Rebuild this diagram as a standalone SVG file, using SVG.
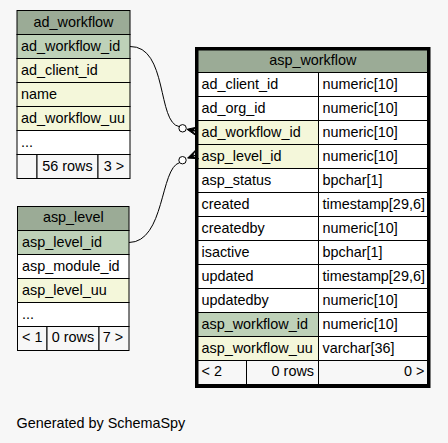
<svg xmlns="http://www.w3.org/2000/svg" width="448" height="443" viewBox="0 0 448 443">
<style>
text{font-family:"Liberation Sans",Arial,sans-serif;font-size:14.4px;fill:#000}
.c{stroke:#000;stroke-width:1}
.h{fill:#9bab96}
.pk{fill:#bed1b8}
.ix{fill:#f4f7da}
.w{fill:#ffffff}
.f{fill:#f7f7f7}
.m{text-anchor:middle}
.e{text-anchor:end}
.edge{fill:none;stroke:#000;stroke-width:1}
.dot{fill:#ffffff;stroke:#000;stroke-width:1}
.crow{fill:#000;stroke:#000;stroke-width:1;stroke-linejoin:miter}
</style>
<rect width="448" height="443" fill="#f7f7f7"/>

<g id="ad_workflow">
<rect class="c h" x="17" y="10.5" width="113" height="24"/>
<rect class="c pk" x="17" y="34.5" width="113" height="24"/>
<rect class="c ix" x="17" y="58.5" width="113" height="24"/>
<rect class="c ix" x="17" y="82.5" width="113" height="24"/>
<rect class="c ix" x="17" y="106.5" width="113" height="24"/>
<rect class="c w" x="17" y="130.5" width="113" height="24"/>
<rect class="c f" x="17" y="154.5" width="20" height="24"/>
<rect class="c f" x="37" y="154.5" width="61" height="24"/>
<rect class="c f" x="98" y="154.5" width="32" height="24"/>
<text class="m" x="73.5" y="26.5">ad_workflow</text>
<text x="21" y="50.5">ad_workflow_id</text>
<text x="21" y="74.5">ad_client_id</text>
<text x="21" y="98.5">name</text>
<text x="21" y="122.5">ad_workflow_uu</text>
<text x="21" y="146.5">...</text>
<text class="m" x="67.5" y="170.5">56 rows</text>
<text class="m" x="114" y="170.5">3 &gt;</text>
</g>

<g id="asp_level">
<rect class="c h" x="17.5" y="206.5" width="111.5" height="24"/>
<rect class="c pk" x="17.5" y="230.5" width="111.5" height="24"/>
<rect class="c w" x="17.5" y="254.5" width="111.5" height="24"/>
<rect class="c ix" x="17.5" y="278.5" width="111.5" height="24"/>
<rect class="c w" x="17.5" y="302.5" width="111.5" height="24"/>
<rect class="c f" x="17.5" y="326.5" width="29.5" height="24"/>
<rect class="c f" x="47" y="326.5" width="52" height="24"/>
<rect class="c f" x="99" y="326.5" width="30" height="24"/>
<text class="m" x="73.3" y="222">asp_level</text>
<text x="22" y="246.5">asp_level_id</text>
<text x="22" y="270.5">asp_module_id</text>
<text x="22" y="294.5">asp_level_uu</text>
<text x="22" y="318.5">...</text>
<text class="m" x="32.3" y="342">&lt; 1</text>
<text class="m" x="73" y="342">0 rows</text>
<text class="m" x="113" y="342">7 &gt;</text>
</g>

<g id="asp_workflow">
<rect class="c h" x="198" y="50" width="229.5" height="22.5"/>
<rect class="c w" x="198" y="72.5" width="120.5" height="24"/>
<rect class="c w" x="318.5" y="72.5" width="109" height="24"/>
<rect class="c w" x="198" y="96.5" width="120.5" height="24"/>
<rect class="c w" x="318.5" y="96.5" width="109" height="24"/>
<rect class="c ix" x="198" y="120.5" width="120.5" height="24"/>
<rect class="c w" x="318.5" y="120.5" width="109" height="24"/>
<rect class="c ix" x="198" y="144.5" width="120.5" height="24"/>
<rect class="c w" x="318.5" y="144.5" width="109" height="24"/>
<rect class="c w" x="198" y="168.5" width="120.5" height="24"/>
<rect class="c w" x="318.5" y="168.5" width="109" height="24"/>
<rect class="c w" x="198" y="192.5" width="120.5" height="24"/>
<rect class="c w" x="318.5" y="192.5" width="109" height="24"/>
<rect class="c w" x="198" y="216.5" width="120.5" height="24"/>
<rect class="c w" x="318.5" y="216.5" width="109" height="24"/>
<rect class="c w" x="198" y="240.5" width="120.5" height="24"/>
<rect class="c w" x="318.5" y="240.5" width="109" height="24"/>
<rect class="c w" x="198" y="264.5" width="120.5" height="24"/>
<rect class="c w" x="318.5" y="264.5" width="109" height="24"/>
<rect class="c w" x="198" y="288.5" width="120.5" height="24"/>
<rect class="c w" x="318.5" y="288.5" width="109" height="24"/>
<rect class="c pk" x="198" y="312.5" width="120.5" height="24"/>
<rect class="c w" x="318.5" y="312.5" width="109" height="24"/>
<rect class="c ix" x="198" y="336.5" width="120.5" height="24"/>
<rect class="c w" x="318.5" y="336.5" width="109" height="24"/>
<rect class="c f" x="198" y="360.5" width="48.5" height="24"/>
<rect class="c f" x="246.5" y="360.5" width="72" height="24"/>
<rect class="c f" x="318.5" y="360.5" width="109" height="24"/>
<rect x="196.5" y="48.5" width="232.5" height="338" fill="none" stroke="#000" stroke-width="3"/>
<text class="m" x="312.8" y="65">asp_workflow</text>
<text x="201.5" y="89">ad_client_id</text>
<text x="322.5" y="89">numeric[10]</text>
<text x="201.5" y="113">ad_org_id</text>
<text x="322.5" y="113">numeric[10]</text>
<text x="201.5" y="137">ad_workflow_id</text>
<text x="322.5" y="137">numeric[10]</text>
<text x="201.5" y="161">asp_level_id</text>
<text x="322.5" y="161">numeric[10]</text>
<text x="201.5" y="185">asp_status</text>
<text x="322.5" y="185">bpchar[1]</text>
<text x="201.5" y="209">created</text>
<text x="322.5" y="209">timestamp[29,6]</text>
<text x="201.5" y="233">createdby</text>
<text x="322.5" y="233">numeric[10]</text>
<text x="201.5" y="257">isactive</text>
<text x="322.5" y="257">bpchar[1]</text>
<text x="201.5" y="281">updated</text>
<text x="322.5" y="281">timestamp[29,6]</text>
<text x="201.5" y="305">updatedby</text>
<text x="322.5" y="305">numeric[10]</text>
<text x="201.5" y="329">asp_workflow_id</text>
<text x="322.5" y="329">numeric[10]</text>
<text x="201.5" y="353">asp_workflow_uu</text>
<text x="322.5" y="353">varchar[36]</text>
<text x="201.5" y="376">&lt; 2</text>
<text class="e" x="314" y="376">0 rows</text>
<text class="e" x="424.5" y="376">0 &gt;</text>
</g>

<g id="connectors">
<path class="edge" d="M130,46.5 C168,46 157,123 179.2,126.6"/>
<circle class="dot" cx="182.6" cy="128.3" r="3.7"/>
<polygon class="crow" points="187,129.3 196.1,135.7 192.1,130.3 197,131.3 192.1,130.3 197.9,126.9"/>
<path class="edge" d="M129,242.5 C165,242 160,168 179.5,162.7"/>
<circle class="dot" cx="182.5" cy="160.2" r="3.7"/>
<polygon class="crow" points="187.6,158.1 198.6,158.7 192.3,156.3 197,154.5 192.3,156.3 195.4,150.3"/>
</g>

<text x="16.5" y="428">Generated by SchemaSpy</text>
</svg>
